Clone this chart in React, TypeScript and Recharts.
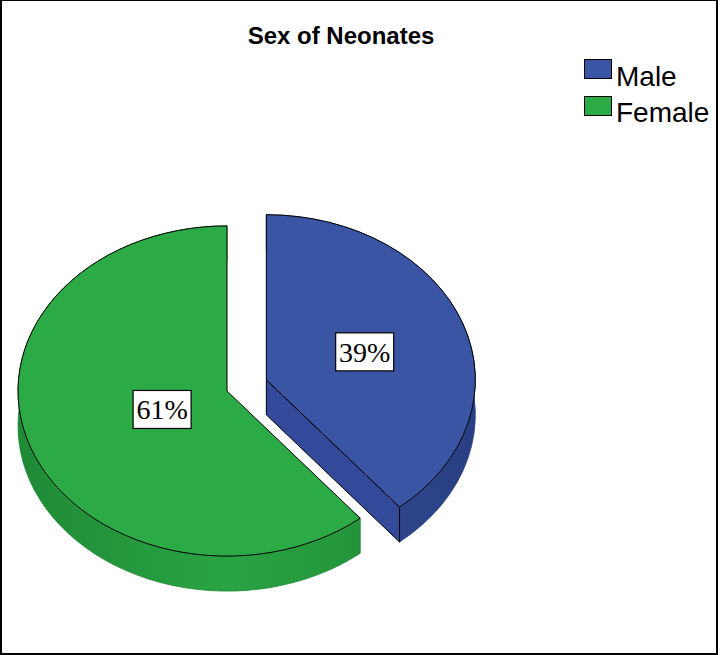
import React from 'react';
import { PieChart, Pie, Cell, Legend } from 'recharts';

const categories = ['Male', 'Female'];
const shares = [39, 61];
const topColors = ['#3B55A5', '#2CAA46'];
const sideColors = ['#3450A0', '#2AA443'];
const sideEdgeColors = ['#2A3F82', '#1F8A36'];
const wallColors = ['#33499A', '#27993E'];
const explodedCategory = 'Male';

const data = categories.map((name, i) => ({ name, value: shares[i] }));

// pie geometry (flattened to an ellipse to fake the 3d tilt)
const CX = 227;
const CY = 391;
const RADIUS = 209;
const TILT = 0.79;
const DEPTH = 35;
const EXPLODE = 0.2;
const labelRadius: Record<string, number> = { Male: 0.5, Female: 0.33 };
const RAD = Math.PI / 180;

const pt = (cx: number, cy: number, rx: number, ry: number, deg: number) => [
  cx + rx * Math.cos(deg * RAD),
  cy - ry * Math.sin(deg * RAD),
];

const nameOf = (p: any) => p.name ?? p.payload?.name;

const sliceCenter = (p: any) => {
  const mid = p.midAngle ?? (p.startAngle + p.endAngle) / 2;
  if (nameOf(p) !== explodedCategory) return [p.cx, p.cy];
  const d = p.outerRadius * EXPLODE;
  return [p.cx + d * Math.cos(mid * RAD), p.cy - d * TILT * Math.sin(mid * RAD)];
};

const SideShape = (props: any) => {
  const { outerRadius, startAngle, endAngle, fill } = props;
  const idx = categories.indexOf(nameOf(props));
  const [x, y] = sliceCenter(props);
  const rx = outerRadius;
  const ry = outerRadius * TILT;
  const hi = Math.max(startAngle, endAngle);
  const lo = Math.min(startAngle, endAngle);
  const large = hi - lo > 180 ? 1 : 0;
  const [x1, y1] = pt(x, y, rx, ry, hi);
  const [x2, y2] = pt(x, y, rx, ry, lo);
  const band = `M${x1},${y1}A${rx},${ry} 0 ${large} 1 ${x2},${y2}L${x2},${y2 + DEPTH}A${rx},${ry} 0 ${large} 0 ${x1},${y1 + DEPTH}Z`;
  const gid = `side-grad-${idx}`;
  // only the radial walls that face the viewer
  const walls: number[][] = [];
  if (Math.sin((hi + 90) * RAD) < -0.01) walls.push([x1, y1]);
  if (Math.sin((lo - 90) * RAD) < -0.01) walls.push([x2, y2]);
  return (
    <g>
      <defs>
        <linearGradient id={gid} gradientUnits="userSpaceOnUse" x1={x - rx} y1={0} x2={x + rx} y2={0}>
          <stop offset="0" stopColor={sideEdgeColors[idx]} />
          <stop offset="0.5" stopColor={fill} />
          <stop offset="1" stopColor={sideEdgeColors[idx]} />
        </linearGradient>
      </defs>
      <path d={band} fill={`url(#${gid})`} stroke={sideEdgeColors[idx]} strokeWidth={0.8} />
      {walls.map(([wx, wy], i) => (
        <path
          key={i}
          d={`M${x},${y}L${wx},${wy}L${wx},${wy + DEPTH}L${x},${y + DEPTH}Z`}
          fill={wallColors[idx]}
          stroke="#000"
          strokeWidth={1}
        />
      ))}
    </g>
  );
};

const TopShape = (props: any) => {
  const { outerRadius, startAngle, endAngle, fill } = props;
  const [x, y] = sliceCenter(props);
  const rx = outerRadius;
  const ry = outerRadius * TILT;
  const hi = Math.max(startAngle, endAngle);
  const lo = Math.min(startAngle, endAngle);
  const large = hi - lo > 180 ? 1 : 0;
  const [x1, y1] = pt(x, y, rx, ry, hi);
  const [x2, y2] = pt(x, y, rx, ry, lo);
  return (
    <path
      d={`M${x},${y}L${x1},${y1}A${rx},${ry} 0 ${large} 1 ${x2},${y2}Z`}
      fill={fill}
      stroke="#000"
      strokeWidth={1}
    />
  );
};

const renderLabel = (props: any) => {
  const [x, y] = sliceCenter(props);
  const f = labelRadius[nameOf(props)] ?? 0.5;
  const lx = x + props.outerRadius * f * Math.cos(props.midAngle * RAD);
  const ly = y - props.outerRadius * TILT * f * Math.sin(props.midAngle * RAD);
  return (
    <g>
      <rect x={lx - 29} y={ly - 19} width={58} height={38} fill="#fff" stroke="#000" strokeWidth={1.2} />
      <text
        x={lx}
        y={ly + 10}
        textAnchor="middle"
        fontFamily="'Liberation Serif', 'Times New Roman', serif"
        fontSize={28}
        fill="#000"
      >
        {`${props.value}%`}
      </text>
    </g>
  );
};

// legend follows the category order, one entry per slice
const LegendContent = () => (
  <div style={{ position: 'relative', width: 720, height: 140 }}>
    {categories.map((name, i) => (
      <React.Fragment key={name}>
        <div
          style={{
            position: 'absolute',
            left: 584,
            top: 59 + i * 37,
            width: 28,
            height: 20,
            boxSizing: 'border-box',
            background: topColors[i],
            border: '1px solid #000',
          }}
        />
        <span
          style={{
            position: 'absolute',
            left: 616,
            top: 63 + i * 36,
            fontFamily: "'Liberation Sans', Arial, sans-serif",
            fontSize: 28,
            lineHeight: '28px',
            color: '#000',
            whiteSpace: 'nowrap',
          }}
        >
          {name}
        </span>
      </React.Fragment>
    ))}
  </div>
);

export default function App() {
  return (
    <div style={{ position: 'relative', width: 720, height: 655, background: '#fff' }}>
      <style>{'body{margin:0}'}</style>
      <div
        style={{
          position: 'absolute',
          left: 0,
          top: 24,
          width: 682,
          textAlign: 'center',
          fontFamily: "'Liberation Sans', Arial, sans-serif",
          fontWeight: 'bold',
          fontSize: 24,
          lineHeight: '24px',
          color: '#000',
        }}
      >
        Sex of Neonates
      </div>
      <PieChart width={720} height={655} margin={{ top: 0, right: 0, bottom: 0, left: 0 }}>
        <Pie
          data={data}
          dataKey="value"
          nameKey="name"
          cx={CX}
          cy={CY}
          outerRadius={RADIUS}
          startAngle={90}
          endAngle={-270}
          stroke="none"
          legendType="none"
          shape={SideShape}
          isAnimationActive={false}
        >
          {data.map((d, i) => (
            <Cell key={d.name} fill={sideColors[i]} />
          ))}
        </Pie>
        <Pie
          data={data}
          dataKey="value"
          nameKey="name"
          cx={CX}
          cy={CY}
          outerRadius={RADIUS}
          startAngle={90}
          endAngle={-270}
          stroke="#000"
          shape={TopShape}
          label={renderLabel}
          labelLine={false}
          isAnimationActive={false}
        >
          {data.map((d, i) => (
            <Cell key={d.name} fill={topColors[i]} />
          ))}
        </Pie>
        <Legend
          layout="vertical"
          align="center"
          verticalAlign="middle"
          content={LegendContent}
          wrapperStyle={{ position: 'absolute', left: 0, top: 0, width: 720, height: 140 }}
        />
      </PieChart>
      <div
        style={{
          position: 'absolute',
          left: 0,
          top: 0,
          width: 718,
          height: 655,
          boxSizing: 'border-box',
          border: '2px solid #000',
          borderTopWidth: 1,
          pointerEvents: 'none',
        }}
      />
    </div>
  );
}
